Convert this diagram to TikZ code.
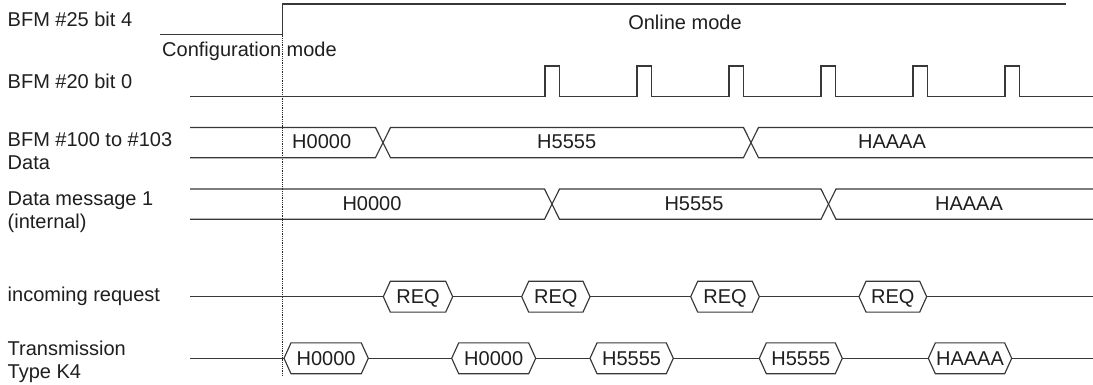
\documentclass[tikz,border=0pt]{standalone}
\usepackage{fontspec}
\setmainfont{Liberation Sans}
\definecolor{lc}{gray}{0.22}
\definecolor{tc}{gray}{0.12}
\newcommand\lblfont{\fontsize{20}{22.8}\selectfont}
\newcommand\hexsig[5]{% name, x-left, x-right, y-centre, text
  \draw[sig, fill=white] (#2,#4) -- ({#2+7},{#4-15.4}) -- ({#3-7},{#4-15.4}) -- (#3,#4)
    -- ({#3-7},{#4+15.4}) -- ({#2+7},{#4+15.4}) -- cycle;
  \node[val] (#1) at ({(#2+#3)/2},{#4+7.2}) {#5};}
\tikzset{
  sig/.style={line width=1.15pt, draw=lc, line join=miter},
  lbl/.style={anchor=base west, inner sep=0pt, text=tc, font=\lblfont},
  val/.style={anchor=base, inner sep=0pt, text=tc, font=\lblfont},
  guide/.style={line width=1.1pt, draw=black!85, dash pattern=on 1pt off 0.8pt},
}
\begin{document}
\begin{tikzpicture}[x=1pt,y=-1pt]
\useasboundingbox[fill=white] (0,0) rectangle (1093,385);

% labels
\node[lbl] (l1) at (7.5,26.5) {BFM \#25 bit 4};
\node[lbl] (cfg) at (162,56.7) {Configuration mode};
\node[val] (onl) at (685,29.7) {Online mode};
\node[lbl] (l2) at (7.5,88.3) {BFM \#20 bit 0};
\node[lbl] (l3a) at (7.5,146.5) {BFM \#100 to \#103};
\node[lbl] (l3b) at (7.5,169.3) {Data};
\node[lbl] (l4a) at (7.5,205.2) {Data message 1};
\node[lbl] (l4b) at (7.5,228) {(internal)};
\node[lbl] (l5) at (7.5,301.5) {incoming request};
\node[lbl] (l6a) at (7.5,355.3) {Transmission};
\node[lbl] (l6b) at (7.5,378.3) {Type K4};

% BFM #25 bit 4
\coordinate (m0) at (160,34.7);
\coordinate (m1) at (282.7,34.7);
\coordinate (m2) at (282.7,4);
\coordinate (m3) at (1066,4);
\draw[sig] (m0) -- (m1) -- (m2) -- (m3);

% guide line
\coordinate (g1) at (282.7,376);
\draw[guide] (m1) -- (g1);

% BFM #20 bit 0
\draw[sig] (190,96.7) \foreach \p in {545,637,729,821,913,1005}{
  -- (\p,96.7) -- (\p,66) -- (\p+14.5,66) -- (\p+14.5,96.7)} -- (1093,96.7);

% BFM #100 to #103 data bus
\draw[sig] (190,127.5) -- (375.5,127.5) -- (390.5,157.7) -- (743.5,157.7) -- (758.5,127.5) -- (1093,127.5);
\draw[sig] (190,157.7) -- (375.5,157.7) -- (390.5,127.5) -- (743.5,127.5) -- (758.5,157.7) -- (1093,157.7);
\node[val] (d1) at (321.7,148.2) {H0000};
\node[val] (d2) at (566.7,148.2) {H5555};
\node[val] (d3) at (892,148.2) {HAAAA};

% Data message 1 bus
\draw[sig] (190,189) -- (544.5,189) -- (559.5,219.3) -- (821,219.3) -- (836,189) -- (1093,189);
\draw[sig] (190,219.3) -- (544.5,219.3) -- (559.5,189) -- (821,189) -- (836,219.3) -- (1093,219.3);
\node[val] (e1) at (372,210.2) {H0000};
\node[val] (e2) at (694,210.2) {H5555};
\node[val] (e3) at (969,210.2) {HAAAA};

% incoming request
\coordinate (r0) at (190,296.7);
\coordinate (r1) at (1093,296.7);
\draw[sig] (r0) -- (r1);
\hexsig{q1}{383.3}{452.7}{296.7}{REQ}
\hexsig{q2}{521.7}{590}{296.7}{REQ}
\hexsig{q3}{690.7}{759.3}{296.7}{REQ}
\hexsig{q4}{859}{926.7}{296.7}{REQ}

% transmission
\coordinate (t0) at (190,358.3);
\coordinate (t1) at (1093,358.3);
\draw[sig] (t0) -- (t1);
\hexsig{x1}{284}{368.3}{358.3}{H0000}
\hexsig{x2}{451.7}{535.7}{358.3}{H0000}
\hexsig{x3}{590}{673.3}{358.3}{H5555}
\hexsig{x4}{759.3}{842.3}{358.3}{H5555}
\hexsig{x5}{928.3}{1011.7}{358.3}{HAAAA}
\end{tikzpicture}
\end{document}
